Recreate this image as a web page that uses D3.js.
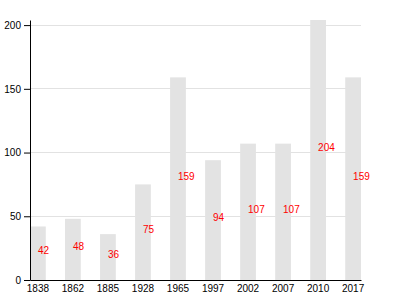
<!DOCTYPE html>
<html><head><meta charset="utf-8">
<script src="https://cdn.jsdelivr.net/npm/d3@7"></script>
<style>body{margin:0;background:#fff}svg{display:block}text{font-family:"Liberation Sans",Arial,sans-serif}</style>
</head><body>
<svg id="c" width="400" height="300"></svg>
<script>
const years = ["1838","1862","1885","1928","1965","1997","2002","2007","2010","2017"];
const values = [42,48,36,75,159,94,107,107,204,159];
const yTicks = [0,50,100,150,200];

(function(){
const svg = d3.select("#c");
const mLeft = 30, mRight = 361, mTop = 20, mBottom = 280;
const x = d3.scaleBand().domain(years).range([mLeft, mRight]).paddingInner(0.55).paddingOuter(0);
const y = d3.scaleLinear().domain([0, d3.max(values)]).range([mBottom, mTop]);

svg.append("g").selectAll("line").data(yTicks).join("line")
  .attr("x1", mLeft).attr("x2", mRight)
  .attr("y1", d => y(d)).attr("y2", d => y(d))
  .attr("stroke", "#e2e2e2").attr("stroke-width", 1).attr("shape-rendering","crispEdges");

svg.append("g").selectAll("rect").data(values).join("rect")
  .attr("x", (d,i) => x(years[i])).attr("width", x.bandwidth())
  .attr("y", d => y(d)).attr("height", d => y(0) - y(d))
  .attr("fill", "#e3e3e3");

svg.append("g").selectAll("text").data(values).join("text")
  .attr("x", (d,i) => x(years[i]) + x.bandwidth()/2)
  .attr("y", d => (y(d) + y(0))/2 + 1)
  .attr("fill", "red").attr("font-size", 10)
  .text(d => d);

svg.append("g").attr("transform", `translate(0,${mBottom})`)
  .call(d3.axisBottom(x).tickSize(0).tickPadding(5))
  .call(g => g.selectAll("text").attr("font-family", "Liberation Sans, Arial, sans-serif").attr("fill","#000"));
svg.append("g").attr("transform", `translate(${mLeft},0)`)
  .call(d3.axisLeft(y).tickValues(yTicks).tickSizeOuter(0))
  .call(g => g.selectAll("text").attr("font-family", "Liberation Sans, Arial, sans-serif").attr("fill","#000"));
})();
</script>
</body></html>
